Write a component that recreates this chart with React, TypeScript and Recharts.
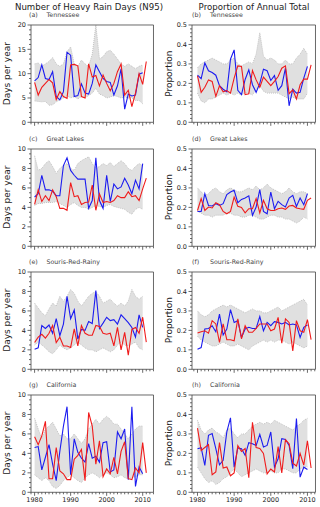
import { ComposedChart, Area, Line, XAxis, YAxis, ReferenceArea } from "recharts";

const years = [
  1980, 1981, 1982, 1983, 1984, 1985, 1986, 1987, 1988, 1989, 1990, 1991, 1992, 1993, 1994, 1995,
  1996, 1997, 1998, 1999, 2000, 2001, 2002, 2003, 2004, 2005, 2006, 2007, 2008, 2009, 2010, 2011,
];

// (a) Tennessee, days
const aBlue = [8.5, 9.2, 11.8, 9.0, 8.8, 10.4, 5.3, 4.6, 6.3, 14.4, 13.8, 5.3, 5.5, 7.9, 6.0, 5.8, 8.0, 11.8, 10.4, 9.0, 8.4, 8.2, 5.6, 7.5, 11.0, 2.7, 5.8, 5.4, 5.6, 9.9, 10.2];
const aRed = [8.2, 5.6, 7.2, 8.0, 8.8, 8.1, 4.7, 6.3, 5.3, 4.9, 11.8, 11.9, 11.6, 5.3, 5.0, 12.0, 9.3, 9.6, 7.5, 9.7, 8.0, 6.5, 8.0, 10.4, 12.0, 5.6, 6.6, 3.2, 6.0, 10.0, 7.8, 12.5];
const aHi = [12, 12.2, 11.5, 12, 12.5, 13.3, 12, 11.5, 12, 14.5, 15.5, 12, 11.5, 12.8, 12, 11.5, 14, 20, 13, 13.5, 14.5, 14.8, 14, 13, 12, 11.5, 12, 11.5, 11, 11.5, 11.8];
const aLo = [4.4, 4.3, 4.2, 4.3, 3.5, 3.6, 4.2, 4.6, 5, 5.5, 5, 5.3, 4.8, 5.3, 5, 5.5, 6, 7, 5.8, 5.5, 5, 5.2, 5.5, 5.3, 5, 5.2, 5, 5, 4.5, 4.5, 3.8];

// (b) Tennessee, proportion
const bBlue = [0.242, 0.224, 0.305, 0.265, 0.256, 0.242, 0.188, 0.17, 0.157, 0.324, 0.372, 0.164, 0.142, 0.22, 0.27, 0.193, 0.154, 0.2, 0.273, 0.265, 0.215, 0.24, 0.164, 0.188, 0.278, 0.085, 0.17, 0.15, 0.154, 0.227, 0.287];
const bRed = [0.239, 0.154, 0.18, 0.218, 0.21, 0.133, 0.188, 0.157, 0.163, 0.15, 0.227, 0.29, 0.287, 0.142, 0.147, 0.266, 0.218, 0.18, 0.232, 0.21, 0.188, 0.21, 0.235, 0.278, 0.29, 0.147, 0.167, 0.12, 0.193, 0.222, 0.222, 0.295];
const bHi = [0.28, 0.3, 0.31, 0.32, 0.33, 0.32, 0.31, 0.3, 0.3, 0.32, 0.33, 0.3, 0.29, 0.3, 0.31, 0.3, 0.35, 0.46, 0.34, 0.32, 0.33, 0.32, 0.3, 0.3, 0.32, 0.3, 0.3, 0.33, 0.35, 0.38, 0.35];
const bLo = [0.15, 0.11, 0.1, 0.12, 0.12, 0.13, 0.14, 0.15, 0.14, 0.15, 0.14, 0.15, 0.14, 0.15, 0.15, 0.14, 0.17, 0.19, 0.16, 0.15, 0.15, 0.15, 0.15, 0.14, 0.13, 0.12, 0.13, 0.12, 0.12, 0.12, 0.15];

// (c) Great Lakes, days
const cBlue = [5.07, 5.4, 7.3, 5.8, 5.8, 5.65, 5.2, 5.2, 8.3, 9.1, 7.8, 7.3, 6.9, 6.9, 6.9, 3.9, 4.7, 9.1, 4.7, 3.9, 7.3, 4.6, 6.4, 5.9, 6.1, 7.0, 6.3, 5.4, 6.8, 5.9, 8.5];
const cRed = [4.3, 5.8, 4.6, 5.2, 4.7, 5.8, 5.1, 3.9, 3.9, 3.7, 6.55, 5.1, 5.2, 4.3, 4.5, 4.55, 6.3, 3.7, 5.4, 4.5, 4.6, 4.5, 4.7, 5.2, 5.0, 5.0, 5.6, 5.1, 5.2, 4.7, 5.9, 7.0];
const cHi = [9.3, 7.8, 8, 8.5, 8.8, 8.2, 7.5, 8, 8.3, 8.5, 8, 7.8, 8.5, 8.8, 9, 9.2, 8.5, 8, 8.2, 8.5, 8.3, 8.6, 8.2, 8.5, 8.8, 8.5, 8, 7.8, 8.2, 8.5, 8.3];
const cLo = [4.2, 4.4, 4.4, 4.5, 4.5, 4.5, 4.6, 4.4, 4.2, 4, 4.3, 4.5, 4.2, 4, 4, 3.8, 4, 4.2, 4.1, 4, 4.2, 4.3, 4.1, 4, 3.9, 3.8, 3.5, 3.3, 3.8, 4, 3.8];

// (d) Great Lakes, proportion
const dBlue = [0.179, 0.179, 0.27, 0.21, 0.207, 0.219, 0.21, 0.219, 0.266, 0.279, 0.288, 0.224, 0.241, 0.248, 0.259, 0.159, 0.202, 0.291, 0.179, 0.167, 0.279, 0.193, 0.231, 0.214, 0.202, 0.248, 0.262, 0.205, 0.248, 0.214, 0.271];
const dRed = [0.184, 0.245, 0.184, 0.202, 0.197, 0.224, 0.214, 0.179, 0.167, 0.179, 0.253, 0.205, 0.2, 0.172, 0.193, 0.193, 0.245, 0.172, 0.236, 0.193, 0.184, 0.184, 0.193, 0.197, 0.19, 0.207, 0.21, 0.197, 0.193, 0.19, 0.236, 0.248];
const dHi = [0.3, 0.28, 0.26, 0.27, 0.29, 0.3, 0.28, 0.27, 0.29, 0.3, 0.29, 0.28, 0.28, 0.29, 0.3, 0.29, 0.31, 0.29, 0.3, 0.32, 0.3, 0.29, 0.28, 0.27, 0.28, 0.3, 0.28, 0.27, 0.28, 0.28, 0.27];
const dLo = [0.18, 0.17, 0.16, 0.16, 0.15, 0.16, 0.16, 0.16, 0.17, 0.17, 0.16, 0.16, 0.15, 0.15, 0.16, 0.16, 0.15, 0.14, 0.14, 0.15, 0.16, 0.16, 0.15, 0.15, 0.14, 0.14, 0.13, 0.12, 0.13, 0.15, 0.14];

// (e) Souris-Red-Rainy, days
const eBlue = [2.07, 2.2, 4.5, 4.2, 4.55, 3.7, 5.2, 3.45, 4.65, 7.5, 5.2, 6.1, 3.1, 4.1, 4.0, 4.9, 4.7, 8.1, 4.2, 4.75, 5.35, 5.0, 5.1, 4.65, 5.6, 5.2, 4.8, 4.3, 3.3, 5.6, 4.3];
const eRed = [2.75, 3.3, 3.6, 3.2, 3.7, 4.5, 2.75, 3.3, 2.4, 2.4, 2.25, 4.15, 2.4, 4.5, 3.7, 3.5, 3.5, 4.5, 4.4, 3.7, 3.6, 3.7, 2.4, 4.3, 2.0, 3.8, 1.45, 4.1, 4.3, 3.7, 5.35, 2.8];
const eHi = [6.8, 6.3, 5.8, 5.5, 6.2, 6.8, 6.5, 7.5, 7, 7.5, 8.2, 7.8, 7, 6.5, 7, 7.5, 7.8, 8, 7.5, 6.8, 7, 7.2, 6.8, 6.5, 6.8, 6.5, 7, 8.2, 7.5, 7.2, 7.5];
const eLo = [2.5, 2.8, 2.5, 2.2, 1.8, 1.6, 2, 2.5, 2.2, 2, 2.2, 2.5, 2.8, 2.5, 2.2, 2, 2, 1.8, 2, 2.2, 2, 1.8, 2, 2.5, 2.8, 2.5, 2.4, 2.6, 2.8, 2.2, 2];

// (f) Souris-Red-Rainy, proportion
const fBlue = [0.103, 0.112, 0.207, 0.21, 0.224, 0.193, 0.284, 0.176, 0.207, 0.307, 0.241, 0.25, 0.164, 0.207, 0.216, 0.21, 0.21, 0.271, 0.198, 0.241, 0.224, 0.245, 0.241, 0.233, 0.241, 0.228, 0.233, 0.228, 0.164, 0.216, 0.228];
const fRed = [0.186, 0.193, 0.198, 0.186, 0.25, 0.233, 0.138, 0.233, 0.152, 0.152, 0.147, 0.259, 0.157, 0.224, 0.19, 0.19, 0.21, 0.233, 0.233, 0.233, 0.198, 0.207, 0.267, 0.134, 0.259, 0.241, 0.095, 0.25, 0.198, 0.19, 0.255, 0.152];
const fHi = [0.3, 0.28, 0.27, 0.28, 0.3, 0.31, 0.32, 0.33, 0.32, 0.33, 0.32, 0.31, 0.3, 0.29, 0.3, 0.31, 0.3, 0.3, 0.29, 0.29, 0.3, 0.31, 0.32, 0.3, 0.31, 0.32, 0.33, 0.34, 0.35, 0.36, 0.33];
const fLo = [0.17, 0.15, 0.14, 0.13, 0.12, 0.12, 0.13, 0.14, 0.13, 0.12, 0.12, 0.13, 0.12, 0.11, 0.1, 0.12, 0.13, 0.14, 0.15, 0.14, 0.15, 0.14, 0.15, 0.15, 0.14, 0.13, 0.14, 0.13, 0.12, 0.11, 0.12];

// (g) California, days
const gBlue = [4.6, 4.7, 2.3, 3.6, 4.9, 2.9, 1.2, 4.2, 6.8, 8.8, 1.8, 5.5, 4.1, 3.5, 3.1, 5.0, 3.5, 3.7, 3.1, 5.1, 5.2, 2.1, 2.3, 6.2, 5.5, 6.5, 1.3, 8.8, 0.6, 2.6, 1.9];
const gRed = [5.7, 4.9, 5.8, 7.3, 1.4, 1.4, 4.6, 2.2, 1.9, 1.3, 1.3, 3.4, 3.8, 4.4, 1.2, 8.2, 6.8, 2.9, 5.3, 1.6, 2.4, 1.9, 3.6, 1.9, 4.2, 5.2, 1.4, 1.3, 2.5, 2.0, 5.1, 2.0];
const gHi = [7.6, 6.5, 5.5, 6.5, 6.8, 7.2, 6.5, 5.8, 6, 5.5, 5.5, 6, 5.5, 5, 5.5, 6.5, 7, 7.5, 7, 7.5, 7.8, 7.5, 7, 7, 6.5, 6, 5.5, 6, 6.5, 6.8, 6.8];
const gLo = [1.8, 1.5, 1.2, 1.5, 1.2, 0.6, 0.4, 0.7, 1.2, 1.5, 1.8, 1.5, 1.2, 1, 1.5, 1.8, 2, 1.8, 1.5, 1.8, 2, 1.8, 1.5, 1.6, 1.8, 1.5, 1.4, 1.5, 1.6, 1.8, 1.8];

// (h) California, proportion
const hBlue = [0.224, 0.229, 0.138, 0.293, 0.302, 0.224, 0.141, 0.164, 0.31, 0.383, 0.129, 0.228, 0.224, 0.19, 0.255, 0.25, 0.241, 0.298, 0.233, 0.241, 0.31, 0.129, 0.172, 0.276, 0.272, 0.241, 0.121, 0.379, 0.078, 0.129, 0.117];
const hRed = [0.33, 0.215, 0.23, 0.245, 0.09, 0.105, 0.255, 0.125, 0.13, 0.085, 0.1, 0.24, 0.21, 0.225, 0.075, 0.36, 0.23, 0.225, 0.2, 0.095, 0.12, 0.105, 0.235, 0.1, 0.27, 0.25, 0.15, 0.135, 0.2, 0.14, 0.265, 0.125];
const hHi = [0.37, 0.32, 0.3, 0.32, 0.33, 0.31, 0.3, 0.28, 0.32, 0.33, 0.3, 0.28, 0.3, 0.3, 0.32, 0.34, 0.35, 0.36, 0.35, 0.36, 0.35, 0.37, 0.36, 0.35, 0.34, 0.33, 0.32, 0.34, 0.35, 0.37, 0.38];
const hLo = [0.13, 0.1, 0.07, 0.05, 0.06, 0.04, 0.05, 0.07, 0.08, 0.1, 0.12, 0.1, 0.08, 0.09, 0.1, 0.11, 0.12, 0.11, 0.1, 0.1, 0.11, 0.1, 0.1, 0.12, 0.12, 0.11, 0.1, 0.1, 0.12, 0.13, 0.13];

const regions = ["Tennessee", "Great Lakes", "Souris-Red-Rainy", "California"];
const letters = ["a", "b", "c", "d", "e", "f", "g", "h"];
const decadeTicks = [1980, 1990, 2000, 2010];
const daysTicksA = [0, 5, 10, 15, 20];
const daysTicks = [0, 2, 4, 6, 8, 10];
const propTicks = [0, 0.1, 0.2, 0.3, 0.4, 0.5];

const FONT = "DejaVu Sans, sans-serif";
const INK = "#222";
const SPINE = "#444";

const range = (a: number, b: number, s: number) => {
  const out: number[] = [];
  for (let i = 0; a + i * s <= b + 1e-9; i++) out.push(+(a + i * s).toFixed(4));
  return out;
};

const build = (blue: number[], red: number[], lo: number[], hi: number[]) =>
  years.map((yr, i) => ({
    year: yr,
    blue: blue[i] ?? null,
    red: red[i] ?? null,
    band: lo[i] != null ? [lo[i], hi[i]] : null,
  }));

const isMajor = (v: number, majors: number[]) => majors.some((m) => Math.abs(m - v) < 1e-6);

function XTick(props: any) {
  const { x, y, payload, showLabel } = props;
  const major = isMajor(payload.value, decadeTicks);
  return (
    <g>
      <line x1={x} x2={x} y1={y} y2={y + (major ? 3.5 : 2)} stroke={SPINE} strokeWidth={0.8} />
      {major && showLabel && (
        <text x={x} y={y + 10} textAnchor="middle" fontSize={6.5} fontFamily={FONT} fill={INK}>
          {payload.value}
        </text>
      )}
    </g>
  );
}

function YTick(props: any) {
  const { x, y, payload, majors, digits } = props;
  const major = isMajor(payload.value, majors);
  return (
    <g>
      <line x1={x - (major ? 3.5 : 2)} x2={x} y1={y} y2={y} stroke={SPINE} strokeWidth={0.8} />
      {major && (
        <text x={x - 5} y={y + 2.3} textAnchor="end" fontSize={6.5} fontFamily={FONT} fill={INK}>
          {payload.value.toFixed(digits)}
        </text>
      )}
    </g>
  );
}

const tops = [25, 148.5, 271.5, 394.5];
const PLOT_H = 97.3;
const YW = 28;
const PAD = 4;
const XH = 14;

const panels = [
  { data: build(aBlue, aRed, aLo, aHi), majors: daysTicksA, minors: range(0, 20, 1), yMax: 20, digits: 0 },
  { data: build(bBlue, bRed, bLo, bHi), majors: propTicks, minors: range(0, 0.5, 0.02), yMax: 0.5, digits: 1 },
  { data: build(cBlue, cRed, cLo, cHi), majors: daysTicks, minors: range(0, 10, 0.5), yMax: 10, digits: 0 },
  { data: build(dBlue, dRed, dLo, dHi), majors: propTicks, minors: range(0, 0.5, 0.02), yMax: 0.5, digits: 1 },
  { data: build(eBlue, eRed, eLo, eHi), majors: daysTicks, minors: range(0, 10, 0.5), yMax: 10, digits: 0 },
  { data: build(fBlue, fRed, fLo, fHi), majors: propTicks, minors: range(0, 0.5, 0.02), yMax: 0.5, digits: 1 },
  { data: build(gBlue, gRed, gLo, gHi), majors: daysTicks, minors: range(0, 10, 0.5), yMax: 10, digits: 0 },
  { data: build(hBlue, hRed, hLo, hHi), majors: propTicks, minors: range(0, 0.5, 0.02), yMax: 0.5, digits: 1 },
];

const cols = [
  { left: 30.5, width: 122.5, domain: [1979, 2013] },
  { left: 192, width: 123.5, domain: [1978.5, 2012.2] },
];

function Panel({ idx }: { idx: number }) {
  const p = panels[idx];
  const col = cols[idx % 2];
  const row = Math.floor(idx / 2);
  const top = tops[row];
  const xMinor = range(Math.ceil(col.domain[0]), Math.floor(col.domain[1]), 1);
  return (
    <div style={{ position: "absolute", left: col.left - YW, top: top - PAD }}>
      <ComposedChart
        width={col.width + YW + PAD}
        height={PLOT_H + PAD + XH}
        data={p.data}
        margin={{ top: PAD, right: PAD, left: 0, bottom: 0 }}
      >
        <XAxis
          dataKey="year"
          type="number"
          domain={col.domain}
          ticks={xMinor}
          interval={0}
          height={XH}
          axisLine={false}
          tickLine={false}
          tickSize={0}
          tickMargin={0}
          allowDataOverflow
          tick={<XTick showLabel={row === 3} />}
        />
        <YAxis
          type="number"
          domain={[0, p.yMax]}
          ticks={p.minors}
          interval={0}
          width={YW}
          axisLine={false}
          tickLine={false}
          tickSize={0}
          tickMargin={0}
          allowDataOverflow
          tick={<YTick majors={p.majors} digits={p.digits} />}
        />
        <Area
          dataKey="band"
          type="linear"
          fill="#e0e0e0"
          fillOpacity={1}
          stroke="#c2c2c2"
          strokeWidth={1}
          strokeDasharray="1 1"
          dot={false}
          activeDot={false}
          isAnimationActive={false}
        />
        <Line dataKey="blue" type="linear" stroke="#1c1cf0" strokeWidth={1.1} dot={false} activeDot={false} isAnimationActive={false} />
        <Line dataKey="red" type="linear" stroke="#f01c1c" strokeWidth={1.1} dot={false} activeDot={false} isAnimationActive={false} />
        <ReferenceArea
          x1={col.domain[0]}
          x2={col.domain[1]}
          y1={0}
          y2={p.yMax}
          fill="none"
          stroke={SPINE}
          strokeWidth={0.8}
          ifOverflow="visible"
        />
      </ComposedChart>
    </div>
  );
}

export default function App() {
  return (
    <div style={{ position: "absolute", left: 0, top: 0, width: 320, height: 507, background: "#fff", fontFamily: FONT }}>
      {panels.map((_, i) => (
        <Panel key={i} idx={i} />
      ))}
      <svg width={320} height={507} style={{ position: "absolute", left: 0, top: 0, pointerEvents: "none" }}>
        <text x={89} y={9.5} textAnchor="middle" fontSize={8.6} fontFamily={FONT} fill={INK}>
          Number of Heavy Rain Days (N95)
        </text>
        <text x={254} y={9.5} textAnchor="middle" fontSize={8.6} fontFamily={FONT} fill={INK}>
          Proportion of Annual Total
        </text>
        {tops.map((t, r) => (
          <g key={r}>
            <text x={10.5} y={t + PLOT_H / 2} transform={`rotate(-90 10.5 ${t + PLOT_H / 2})`} textAnchor="middle" fontSize={9} fontFamily={FONT} fill={INK}>
              Days per year
            </text>
            <text x={172} y={t + PLOT_H / 2} transform={`rotate(-90 172 ${t + PLOT_H / 2})`} textAnchor="middle" fontSize={9} fontFamily={FONT} fill={INK}>
              Proportion
            </text>
            {[0, 1].map((c) => (
              <g key={c}>
                <text x={c === 0 ? 29 : 192} y={t - 8} fontSize={6.3} fontWeight="normal" fontFamily={FONT} fill="#444">
                  ({letters[r * 2 + c]})
                </text>
                <text x={c === 0 ? 46.5 : 210} y={t - 8} fontSize={6.3} fontWeight="normal" fontFamily={FONT} fill="#444">
                  {regions[r]}
                </text>
              </g>
            ))}
          </g>
        ))}
      </svg>
    </div>
  );
}
